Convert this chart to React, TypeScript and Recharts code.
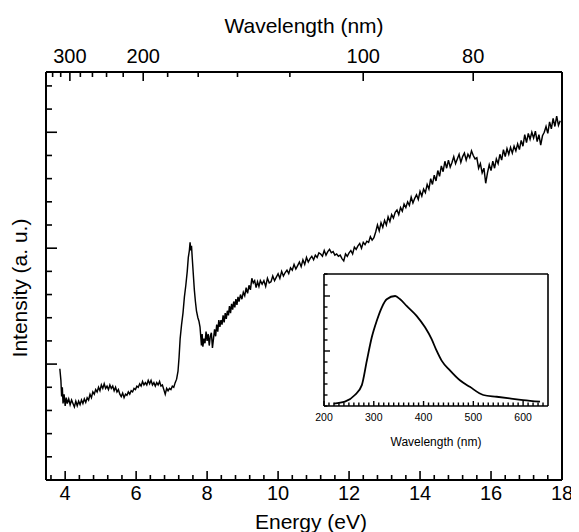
import React from "react";
import { LineChart, Line, XAxis, YAxis, Label } from "recharts";

const font = "'Liberation Sans', Arial, Helvetica, sans-serif";
const HC = 1239.84; // eV*nm, used to place the wavelength ticks on the energy axis

// main spectrum: photon energy (eV) and intensity (a.u.)
const energy = [
  3.85, 3.88, 3.9, 3.92, 3.94, 3.97, 4.0, 4.03, 4.06, 4.1,
  4.14, 4.18, 4.22, 4.26, 4.3, 4.34, 4.38, 4.42, 4.46, 4.5,
  4.54, 4.58, 4.62, 4.66, 4.7, 4.74, 4.78, 4.82, 4.86, 4.9,
  4.94, 4.98, 5.02, 5.06, 5.1, 5.14, 5.18, 5.22, 5.26, 5.3,
  5.34, 5.38, 5.42, 5.46, 5.5, 5.54, 5.58, 5.62, 5.66, 5.7,
  5.74, 5.78, 5.82, 5.86, 5.9, 5.94, 5.98, 6.02, 6.06, 6.1,
  6.14, 6.18, 6.22, 6.26, 6.3, 6.34, 6.38, 6.42, 6.46, 6.5,
  6.54, 6.58, 6.62, 6.66, 6.7, 6.74, 6.78, 6.82, 6.86, 6.9,
  6.94, 6.98, 7.02, 7.06, 7.1, 7.14, 7.18, 7.21, 7.24, 7.28,
  7.32, 7.36, 7.4, 7.44, 7.47, 7.5, 7.52, 7.54, 7.56, 7.58,
  7.61, 7.64, 7.67, 7.7, 7.74, 7.77, 7.8, 7.82, 7.84, 7.86,
  7.88, 7.91, 7.94, 7.97, 8.0, 8.03, 8.06, 8.09, 8.12, 8.15,
  8.18, 8.21, 8.24, 8.27, 8.3, 8.33, 8.36, 8.39, 8.42, 8.45,
  8.48, 8.51, 8.54, 8.57, 8.6, 8.63, 8.66, 8.69, 8.72, 8.75,
  8.78, 8.81, 8.84, 8.87, 8.9, 8.94, 8.98, 9.02, 9.06, 9.1,
  9.14, 9.18, 9.22, 9.26, 9.3, 9.34, 9.38, 9.42, 9.46, 9.5,
  9.55, 9.6, 9.65, 9.7, 9.75, 9.8, 9.85, 9.9, 9.95, 10.0,
  10.05, 10.1, 10.15, 10.2, 10.25, 10.3, 10.35, 10.4, 10.45, 10.5,
  10.55, 10.6, 10.65, 10.7, 10.75, 10.8, 10.85, 10.9, 10.95, 11.0,
  11.05, 11.1, 11.15, 11.2, 11.25, 11.3, 11.35, 11.4, 11.45, 11.5,
  11.55, 11.6, 11.65, 11.7, 11.75, 11.8, 11.85, 11.9, 11.95, 12.0,
  12.05, 12.1, 12.15, 12.2, 12.25, 12.3, 12.35, 12.4, 12.45, 12.5,
  12.55, 12.6, 12.65, 12.7, 12.75, 12.8, 12.85, 12.9, 12.95, 13.0,
  13.05, 13.1, 13.15, 13.2, 13.25, 13.3, 13.35, 13.4, 13.45, 13.5,
  13.55, 13.6, 13.65, 13.7, 13.75, 13.8, 13.85, 13.9, 13.95, 14.0,
  14.05, 14.1, 14.15, 14.2, 14.25, 14.3, 14.35, 14.4, 14.45, 14.5,
  14.55, 14.6, 14.65, 14.7, 14.75, 14.8, 14.85, 14.9, 14.95, 15.0,
  15.05, 15.1, 15.15, 15.2, 15.25, 15.3, 15.35, 15.4, 15.45, 15.5,
  15.55, 15.6, 15.65, 15.7, 15.75, 15.8, 15.85, 15.9, 15.95, 16.0,
  16.05, 16.1, 16.15, 16.2, 16.25, 16.3, 16.35, 16.4, 16.45, 16.5,
  16.55, 16.6, 16.65, 16.7, 16.75, 16.8, 16.85, 16.9, 16.95, 17.0,
  17.05, 17.1, 17.15, 17.2, 17.25, 17.3, 17.35, 17.4, 17.45, 17.5,
  17.55, 17.6, 17.65, 17.7, 17.75, 17.8, 17.85, 17.9, 17.95,
];
const intensity = [
  4.8, 4.3, 3.6, 4.0, 3.3, 3.7, 3.2, 3.55, 3.3, 3.5,
  3.25, 3.45, 3.3, 3.15, 3.4, 3.2, 3.4, 3.25, 3.45, 3.3,
  3.5, 3.35, 3.55, 3.45, 3.7, 3.55, 3.8, 3.7, 3.9, 3.8,
  4.0, 3.85, 4.1, 3.95, 4.15, 3.95, 4.05, 3.9, 4.1, 3.95,
  4.05, 3.85, 4.0, 3.8, 3.9, 3.7, 3.6, 3.75, 3.55, 3.7,
  3.65, 3.8, 3.7, 3.85, 3.8, 3.95, 3.9, 4.05, 4.0, 4.15,
  4.05, 4.25, 4.1, 4.2, 4.1, 4.3, 4.15, 4.3, 4.1, 4.2,
  4.05, 4.2, 4.1, 4.25, 4.05, 4.1, 3.9, 3.7, 3.95, 3.85,
  3.95, 3.9, 4.05, 4.0, 4.2, 4.35, 4.7, 5.3, 6.1, 6.7,
  7.2, 7.9, 8.4, 9.0, 9.6, 9.9, 10.25, 9.9, 10.1, 9.6,
  8.9, 8.2, 7.7, 7.3, 7.0, 6.85, 6.6, 6.2, 5.8, 6.3,
  5.75, 6.1, 5.9, 6.4, 6.0, 6.3, 5.8, 6.2, 6.35, 5.7,
  6.1, 6.5, 6.2, 6.7, 6.4, 6.9, 6.6, 6.9, 6.7, 7.1,
  6.8, 7.2, 6.95, 7.3, 7.1, 7.5, 7.2, 7.6, 7.35, 7.7,
  7.45, 7.8, 7.55, 7.9, 7.7, 8.0, 7.8, 8.1, 7.95, 8.3,
  8.05, 8.4, 8.2, 8.7, 8.5, 8.6, 8.3, 8.55, 8.35, 8.6,
  8.45, 8.6, 8.35, 8.7, 8.5, 8.55, 8.8, 8.6, 8.75, 8.9,
  8.7, 9.0, 8.8, 8.95, 9.05, 8.9, 9.15, 9.05, 9.3, 9.1,
  9.25, 9.4, 9.2, 9.5, 9.3, 9.6, 9.4, 9.55, 9.65, 9.5,
  9.7, 9.6, 9.8, 9.75, 9.65, 9.9, 9.7, 9.85, 9.95, 9.8,
  9.85, 9.7, 9.75, 9.65, 9.7, 9.55, 9.45, 9.75, 9.65, 9.8,
  9.9, 9.75, 10.05, 9.95, 10.1, 10.2, 10.0, 10.25, 10.15, 10.3,
  10.25, 10.5, 10.35, 10.45, 10.7, 11.0, 10.75, 11.1, 10.9, 11.2,
  11.0, 11.35, 11.15, 11.45, 11.3, 11.55, 11.65, 11.45, 11.75, 11.6,
  11.9, 11.75, 12.0, 11.85, 12.2, 11.95, 12.15, 12.3, 12.1, 12.45,
  12.25, 12.55, 12.4, 12.75, 12.55, 13.0, 12.75, 13.15, 12.9, 13.35,
  13.1, 13.55, 13.3, 13.75, 13.45, 13.8, 13.5, 13.7, 13.95, 13.65,
  13.85, 14.05, 13.7, 13.95, 14.1, 13.8, 14.05, 13.9, 14.2, 14.0,
  13.85, 13.9, 13.45, 13.65, 13.25, 13.45, 12.8, 13.25, 13.6, 13.35,
  13.75, 13.45, 13.85, 13.65, 14.05, 13.8, 14.25, 13.95, 14.3, 14.05,
  14.35, 14.1, 14.4, 14.2, 14.5, 14.25, 14.65, 14.4, 14.9, 14.55,
  14.95, 14.7, 15.0, 14.75, 15.05, 14.6, 14.9, 14.45, 14.85, 15.0,
  15.25, 14.95, 15.45, 15.15, 15.6, 15.25, 15.7, 15.3, 15.5,
];

const energyTicks = [
  3.6, 4.0, 4.4, 4.8, 5.2, 5.6, 6.0, 6.4, 6.8, 7.2, 7.6, 8.0, 8.4, 8.8, 9.2, 9.6, 10.0, 10.4, 10.8,
  11.2, 11.6, 12.0, 12.4, 12.8, 13.2, 13.6, 14.0, 14.4, 14.8, 15.2, 15.6, 16.0, 16.4, 16.8, 17.2, 17.6, 18.0,
];
const energyLabels = [4, 6, 8, 10, 12, 14, 16, 18];
const wavelengthTicks = [340, 320, 300, 280, 260, 240, 220, 200, 180, 160, 140, 120, 100, 80];
const wavelengthLabels = [300, 200, 100, 80];
const intensityTicks = [0, 1, 2, 3, 4, 5, 6, 7, 8, 9, 10, 11, 12, 13, 14, 15, 16, 17];
const intensityMajor = [5, 10, 15];

// inset: emission spectrum
const insetWavelength = [220, 242, 262, 276, 286, 296, 306, 316, 326, 343, 353, 366, 386, 403, 416, 426, 436, 453, 473, 493, 520, 547, 573, 600, 634];
const insetIntensity = [0.22, 0.39, 1.0, 1.9, 4.1, 6.25, 7.75, 8.95, 9.7, 10.0, 9.7, 9.1, 8.2, 7.15, 6.1, 5.05, 4.15, 3.24, 2.34, 1.74, 1.0, 0.84, 0.69, 0.54, 0.39];
const insetXTicks = [
  200, 210, 220, 230, 240, 250, 260, 270, 280, 290, 300, 310, 320, 330, 340, 350, 360, 370, 380, 390,
  400, 410, 420, 430, 440, 450, 460, 470, 480, 490, 500, 510, 520, 530, 540, 550, 560, 570, 580, 590,
  600, 610, 620, 630, 640,
];
const insetXLabels = [200, 300, 400, 500, 600];
const insetYTicks = [0, 1, 2, 3, 4, 5, 6, 7, 8, 9, 10, 11, 12];
const insetYMajor = [5, 10];

const spectrum = energy.map((e, i) => ({ e, v: intensity[i] }));
const inset = insetWavelength.map((w, i) => ({ w, v: insetIntensity[i] }));

const axisStyle = { stroke: "#000", strokeWidth: 2 };
const insetAxis = { stroke: "#000", strokeWidth: 1.6 };

const BottomTick = ({ x, y, payload }: any) => {
  const val = Math.round(payload.value * 10) / 10;
  const major = energyLabels.includes(val);
  return (
    <g>
      <line x1={x} y1={y} x2={x} y2={y - (major ? 9 : 5)} stroke="#000" strokeWidth={1.6} />
      {major && (
        <text x={x} y={y + 20} textAnchor="middle" fontSize={20} fontFamily={font} fill="#000">
          {val}
        </text>
      )}
    </g>
  );
};

const TopTick = ({ x, y, payload }: any) => {
  const wl = Math.round(HC / payload.value);
  const major = wavelengthLabels.includes(wl);
  return (
    <g>
      <line x1={x} y1={y} x2={x} y2={y + (major ? 9 : 5)} stroke="#000" strokeWidth={1.6} />
      {major && (
        <text x={x} y={y - 9} textAnchor="middle" fontSize={20} fontFamily={font} fill="#000">
          {wl}
        </text>
      )}
    </g>
  );
};

const LeftTick = ({ x, y, payload }: any) => {
  const major = intensityMajor.includes(payload.value);
  return <line x1={x} y1={y} x2={x + (major ? 11 : 6)} y2={y} stroke="#000" strokeWidth={1.6} />;
};

const InsetBottomTick = ({ x, y, payload }: any) => {
  const major = insetXLabels.includes(payload.value);
  return (
    <g>
      <line x1={x} y1={y} x2={x} y2={y - (major ? 5 : 3.5)} stroke="#000" strokeWidth={1.4} />
      {major && (
        <text x={x} y={y + 15} textAnchor="middle" fontSize={10.5} fontFamily={font} fill="#000">
          {payload.value}
        </text>
      )}
    </g>
  );
};

const InsetLeftTick = ({ x, y, payload }: any) => {
  const major = insetYMajor.includes(payload.value);
  return <line x1={x} y1={y} x2={x + (major ? 6 : 3.5)} y2={y} stroke="#000" strokeWidth={1.4} />;
};

export default function App() {
  return (
    <div style={{ position: "relative", width: 571, height: 524 }}>
      <LineChart width={571} height={524} data={spectrum} margin={{ top: 0, right: 0, bottom: 0, left: 0 }}>
        <XAxis
          xAxisId="bottom"
          dataKey="e"
          type="number"
          domain={[3.46, 18]}
          allowDataOverflow
          ticks={energyTicks}
          interval={0}
          height={52}
          tickSize={0}
          tickMargin={0}
          tickLine={false}
          axisLine={axisStyle}
          tick={<BottomTick />}
        >
          <Label value="Energy (eV)" position="insideBottom" offset={3} dx={7} fontSize={21} fontFamily={font} fill="#000" />
        </XAxis>
        <XAxis
          xAxisId="top"
          dataKey="e"
          orientation="top"
          type="number"
          domain={[3.46, 18]}
          allowDataOverflow
          ticks={wavelengthTicks.map((w) => HC / w)}
          interval={0}
          height={64}
          tickSize={0}
          tickMargin={0}
          tickLine={false}
          axisLine={axisStyle}
          tick={<TopTick />}
        >
          <Label value="Wavelength (nm)" position="insideTop" offset={10} fontSize={21} fontFamily={font} fill="#000" />
        </XAxis>
        <YAxis
          yAxisId="left"
          type="number"
          domain={[0, 17.6]}
          allowDataOverflow
          ticks={intensityTicks}
          interval={0}
          width={38}
          tickSize={0}
          tickMargin={0}
          tickLine={false}
          axisLine={axisStyle}
          tick={<LeftTick />}
        >
          <Label value="Intensity (a. u.)" position="center" angle={-90} dx={-7} dy={12} fontSize={21} fontFamily={font} fill="#000" />
        </YAxis>
        <YAxis
          yAxisId="right"
          orientation="right"
          type="number"
          domain={[0, 17.6]}
          allowDataOverflow
          width={17}
          tick={false}
          tickLine={false}
          axisLine={axisStyle}
        />
        {/* invisible twin so the top/right frame axes share the same scales */}
        <Line xAxisId="top" yAxisId="right" dataKey="v" stroke="none" dot={false} isAnimationActive={false} />
        <Line
          xAxisId="bottom"
          yAxisId="left"
          type="linear"
          dataKey="v"
          stroke="#000"
          strokeWidth={1.45}
          dot={false}
          isAnimationActive={false}
        />
      </LineChart>

      <div style={{ position: "absolute", left: 300, top: 261 }}>
        <LineChart width={250} height={187} data={inset} margin={{ top: 4, right: 9, bottom: 0, left: 15 }}>
          <XAxis
            xAxisId="b"
            dataKey="w"
            type="number"
            domain={[200, 650]}
            allowDataOverflow
            ticks={insetXTicks}
            interval={0}
            height={50}
            tickSize={0}
            tickMargin={0}
            tickLine={false}
            axisLine={insetAxis}
            tick={<InsetBottomTick />}
          >
            <Label value="Wavelength (nm)" position="insideBottom" offset={10} fontSize={12} fontFamily={font} fill="#000" />
          </XAxis>
          <XAxis xAxisId="t" dataKey="w" orientation="top" type="number" domain={[200, 650]} allowDataOverflow height={1} tick={false} tickLine={false} axisLine={insetAxis} />
          <YAxis
            yAxisId="l"
            type="number"
            domain={[0, 12]}
            allowDataOverflow
            ticks={insetYTicks}
            interval={0}
            width={1}
            tickSize={0}
            tickMargin={0}
            tickLine={false}
            axisLine={insetAxis}
            tick={<InsetLeftTick />}
          />
          <YAxis yAxisId="r" orientation="right" type="number" domain={[0, 12]} allowDataOverflow width={1} tick={false} tickLine={false} axisLine={insetAxis} />
          <Line xAxisId="t" yAxisId="r" dataKey="v" stroke="none" dot={false} isAnimationActive={false} />
          <Line
            xAxisId="b"
            yAxisId="l"
            type="monotone"
            dataKey="v"
            stroke="#000"
            strokeWidth={1.8}
            dot={false}
            isAnimationActive={false}
          />
        </LineChart>
      </div>
    </div>
  );
}
